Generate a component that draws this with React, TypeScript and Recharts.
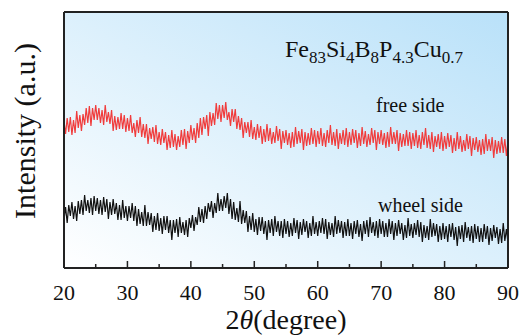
import { LineChart, Line, XAxis, YAxis, CartesianGrid } from 'recharts'

// 2θ sampling grid of the scan (degrees)
const START_ANGLE = 20
const STEP = 0.25

// intensity, arbitrary units (0 = bottom of frame)
const freeSide = [
  147, 134, 150, 136, 151, 133, 148, 135, 157, 140, 153, 137, 154, 143, 160, 145, 162, 142, 160, 148,
  163, 148, 160, 145, 158, 143, 163, 146, 156, 144, 158, 137, 152, 138, 151, 139, 155, 139, 153, 136,
  150, 137, 153, 135, 145, 131, 148, 135, 151, 131, 144, 130, 144, 124, 140, 129, 141, 126, 143, 124,
  136, 123, 139, 125, 136, 118, 133, 120, 138, 121, 134, 118, 132, 121, 138, 123, 139, 119, 137, 125,
  143, 128, 140, 125, 145, 130, 150, 133, 151, 139, 153, 132, 156, 142, 155, 143, 165, 149, 163, 146,
  163, 150, 166, 148, 156, 142, 159, 146, 159, 139, 152, 138, 150, 130, 146, 135, 146, 131, 148, 129,
  141, 128, 144, 130, 142, 124, 139, 126, 144, 127, 140, 124, 136, 125, 142, 127, 139, 119, 137, 125,
  138, 123, 135, 120, 136, 121, 141, 124, 137, 125, 139, 118, 136, 122, 135, 123, 140, 124, 138, 121,
  137, 124, 140, 122, 135, 121, 138, 125, 143, 123, 136, 122, 139, 119, 135, 124, 138, 123, 140, 121,
  136, 123, 139, 125, 138, 120, 135, 122, 141, 124, 137, 121, 134, 123, 140, 125, 138, 118, 136, 124,
  138, 123, 135, 120, 136, 121, 141, 124, 136, 124, 138, 117, 135, 121, 134, 122, 138, 122, 136, 119,
  135, 122, 138, 120, 133, 119, 136, 123, 140, 120, 133, 119, 136, 116, 132, 121, 134, 119, 136, 117,
  132, 119, 135, 121, 133, 115, 130, 117, 136, 119, 132, 116, 128, 117, 134, 119, 132, 112, 130, 118,
  131, 116, 128, 113, 129, 114, 134, 117, 129, 117, 131, 110, 128, 114, 127, 115, 131, 115, 129, 112,
  128,
]

const wheelSide = [
  48, 61, 45, 63, 52, 66, 49, 62, 47, 67, 54, 68, 53, 73, 57, 68, 55, 70, 53, 72,
  57, 70, 54, 68, 53, 71, 56, 69, 49, 66, 53, 69, 54, 65, 48, 63, 48, 68, 50, 62,
  47, 62, 50, 65, 47, 62, 42, 59, 44, 56, 42, 63, 42, 56, 43, 55, 36, 52, 38, 55,
  37, 50, 34, 52, 38, 52, 35, 48, 28, 48, 35, 49, 31, 51, 35, 46, 33, 48, 31, 50,
  40, 53, 37, 51, 43, 61, 46, 59, 45, 62, 49, 65, 56, 67, 50, 65, 55, 75, 57, 69,
  57, 72, 60, 75, 54, 69, 49, 66, 48, 60, 46, 67, 44, 58, 45, 57, 36, 52, 38, 55,
  36, 49, 33, 51, 37, 51, 34, 47, 28, 48, 35, 49, 32, 52, 36, 47, 32, 47, 30, 49,
  34, 47, 31, 45, 32, 50, 35, 48, 29, 46, 33, 49, 36, 47, 30, 45, 32, 52, 34, 46,
  32, 47, 35, 50, 34, 49, 29, 46, 33, 45, 31, 52, 34, 48, 35, 47, 30, 46, 32, 49,
  32, 45, 29, 47, 34, 48, 31, 44, 27, 47, 34, 48, 31, 51, 35, 46, 32, 47, 30, 49,
  34, 47, 31, 45, 31, 49, 34, 47, 28, 45, 32, 48, 34, 45, 28, 43, 30, 50, 32, 44,
  30, 45, 33, 48, 31, 46, 26, 43, 30, 42, 28, 49, 31, 45, 32, 44, 26, 42, 28, 45,
  29, 42, 26, 44, 31, 45, 28, 41, 22, 42, 29, 43, 26, 46, 30, 41, 27, 42, 25, 44,
  29, 42, 26, 40, 26, 44, 29, 42, 23, 40, 27, 43, 30, 41, 24, 39, 25, 45, 27, 39,
  25,
]

const xTicks = [20, 25, 30, 35, 40, 45, 50, 55, 60, 65, 70, 75, 80, 85, 90]

const data = freeSide.map((v, i) => ({
  angle: START_ANGLE + i * STEP,
  free: v,
  wheel: wheelSide[i],
}))

const serif = { fontFamily: "'Liberation Serif', 'Times New Roman', 'DejaVu Serif', serif" }

const AngleTick = ({ x, y, payload }: any) => {
  const major = payload.value % 10 === 0
  return (
    <g>
      <line x1={x} x2={x} y1={y} y2={y - (major ? 7 : 4)} stroke="#222" strokeWidth={1.5} />
      {major && (
        <text x={x} y={y + 32} textAnchor="middle" fontSize={22} style={serif} fill="#111">
          {payload.value}
        </text>
      )}
    </g>
  )
}

export default function App() {
  return (
    <div style={{ position: 'absolute', left: 0, top: 0, width: 522, height: 336, background: '#fff' }}>
      <LineChart width={522} height={336} data={data} margin={{ top: 11, right: 13, left: 63, bottom: 67 }}>
        <defs>
          <linearGradient id="plotBg" x1="0" y1="1" x2="1" y2="0">
            <stop offset="0%" stopColor="#ffffff" />
            <stop offset="100%" stopColor="#b9e1f9" />
          </linearGradient>
        </defs>
        <CartesianGrid horizontal={false} vertical={false} fill="url(#plotBg)" />
        <XAxis
          dataKey="angle"
          type="number"
          domain={[20, 90]}
          allowDataOverflow
          ticks={xTicks}
          height={1}
          tickSize={0}
          tickMargin={0}
          tickLine={false}
          axisLine={{ stroke: '#222', strokeWidth: 2 }}
          tick={<AngleTick />}
          interval={0}
        />
        <XAxis xAxisId="top" orientation="top" dataKey="angle" type="number" domain={[20, 90]} allowDataOverflow
          height={1} tick={false} tickLine={false} axisLine={{ stroke: '#222', strokeWidth: 2 }} />
        <YAxis domain={[0, 256]} allowDataOverflow width={1} tick={false} tickLine={false}
          axisLine={{ stroke: '#222', strokeWidth: 2 }} />
        <YAxis yAxisId="right" orientation="right" domain={[0, 256]} allowDataOverflow width={1} tick={false}
          tickLine={false} axisLine={{ stroke: '#222', strokeWidth: 2 }} />
        <Line type="linear" dataKey="free" stroke="#f03c3c" strokeWidth={1.2} dot={false} isAnimationActive={false} />
        <Line type="linear" dataKey="wheel" stroke="#111111" strokeWidth={1.2} dot={false} isAnimationActive={false} />
        <text x={285} y={57} fontSize={24} style={serif} fill="#111">
          Fe<tspan fontSize={17} dy={6}>83</tspan>
          <tspan dy={-6}>Si</tspan><tspan fontSize={17} dy={6}>4</tspan>
          <tspan dy={-6}>B</tspan><tspan fontSize={17} dy={6}>8</tspan>
          <tspan dy={-6}>P</tspan><tspan fontSize={17} dy={6}>4.3</tspan>
          <tspan dy={-6}>Cu</tspan><tspan fontSize={17} dy={6}>0.7</tspan>
        </text>
        <text x={376} y={112} fontSize={20} style={serif} fill="#111">free side</text>
        <text x={378} y={212} fontSize={20} style={serif} fill="#111">wheel side</text>
        <text x={286} y={329} textAnchor="middle" fontSize={28} style={serif} fill="#111">
          2<tspan fontStyle="italic">θ</tspan>(degree)
        </text>
        <text transform="translate(35,131) rotate(-90)" textAnchor="middle" fontSize={30} style={serif} fill="#111">
          Intensity (a.u.)
        </text>
      </LineChart>
    </div>
  )
}
